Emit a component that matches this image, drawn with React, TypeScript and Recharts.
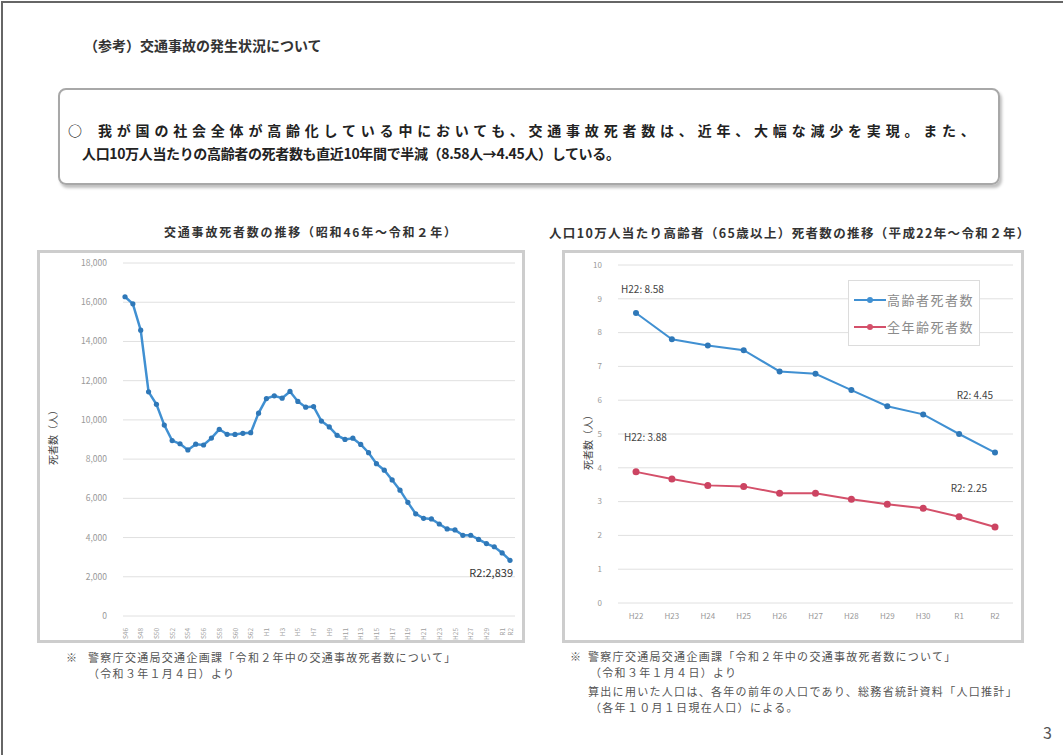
import React from "react";
import { CartesianGrid, LabelList, Legend, Line, LineChart, XAxis, YAxis } from "recharts";

const FONT = '"Noto Sans CJK JP", "Noto Sans", sans-serif';

// 交通事故死者数（昭和46年〜令和2年）
const yearLabels = [
  "S46", "S47", "S48", "S49", "S50", "S51", "S52", "S53", "S54", "S55",
  "S56", "S57", "S58", "S59", "S60", "S61", "S62", "S63", "H1", "H2",
  "H3", "H4", "H5", "H6", "H7", "H8", "H9", "H10", "H11", "H12",
  "H13", "H14", "H15", "H16", "H17", "H18", "H19", "H20", "H21", "H22",
  "H23", "H24", "H25", "H26", "H27", "H28", "H29", "H30", "R1", "R2",
];
const deaths = [
  16278, 15918, 14574, 11432, 10792, 9734, 8945, 8783, 8466, 8760,
  8719, 9073, 9520, 9262, 9261, 9317, 9347, 10344, 11086, 11227,
  11105, 11451, 10942, 10649, 10679, 9942, 9640, 9211, 9006, 9066,
  8747, 8326, 7768, 7436, 6937, 6415, 5796, 5209, 4979, 4948,
  4691, 4438, 4388, 4113, 4117, 3904, 3694, 3532, 3215, 2839,
];
const shownYearTicks = [
  "S46", "S48", "S50", "S52", "S54", "S56", "S58", "S60", "S62", "H1",
  "H3", "H5", "H7", "H9", "H11", "H13", "H15", "H17", "H19", "H21",
  "H23", "H25", "H27", "H29", "R1", "R2",
];
const deathTicks = [0, 2000, 4000, 6000, 8000, 10000, 12000, 14000, 16000, 18000];

// 人口10万人当たり死者数（平成22年〜令和2年）
const recentYears = ["H22", "H23", "H24", "H25", "H26", "H27", "H28", "H29", "H30", "R1", "R2"];
const elderlyRate = [8.58, 7.8, 7.62, 7.48, 6.85, 6.78, 6.3, 5.82, 5.58, 5.0, 4.45];
const allAgeRate = [3.88, 3.67, 3.48, 3.45, 3.25, 3.25, 3.07, 2.92, 2.8, 2.55, 2.25];
const rateTicks = [0, 1, 2, 3, 4, 5, 6, 7, 8, 9, 10];
const legendOrder = ["高齢者死者数", "全年齢死者数"];

const deathData = yearLabels.map((year, i) => ({ year, deaths: deaths[i] }));
const rateData = recentYears.map((year, i) => ({ year, elderly: elderlyRate[i], all: allAgeRate[i] }));

const BLUE_LINE = "#4090d2";
const BLUE_DOT = "#2f78b8";
const RED_LINE = "#d4506a";
const RED_DOT = "#cc4462";

const VerticalTick = ({ x, y, payload }: any) => (
  <text
    x={0}
    y={0}
    transform={`translate(${x + 2.5},${y + 4}) rotate(-90)`}
    fill="#a0a0a0"
    fontSize={6.5}
    textAnchor="end"
    fontFamily={FONT}
  >
    {payload.value}
  </text>
);

const lastDeathLabel = (props: any) => {
  const { x, y, index } = props;
  const last = deaths.length - 1;
  if (index !== last) return null;
  return (
    <text x={x + 3} y={y + 17} textAnchor="end" fontSize={11} fill="#333" fontFamily={FONT}>
      {`${yearLabels[last]}:${deaths[last].toLocaleString("en-US")}`}
    </text>
  );
};

const rateLabel = (values: number[], first: [number, number], end: [number, number]) => (props: any) => {
  const { x, y, index } = props;
  const last = values.length - 1;
  if (index !== 0 && index !== last) return null;
  const [dx, dy] = index === 0 ? first : end;
  return (
    <text
      x={x + dx}
      y={y + dy}
      textAnchor={index === 0 ? "start" : "end"}
      fontSize={10}
      fill="#444"
      fontFamily={FONT}
    >
      {`${recentYears[index]}: ${values[index].toFixed(2)}`}
    </text>
  );
};

const renderRateLegend = (props: any) => {
  const items = [...(props.payload || [])].sort(
    (a: any, b: any) => legendOrder.indexOf(a.value) - legendOrder.indexOf(b.value)
  );
  return (
    <div
      style={{
        border: "1px solid #dcdcdc",
        background: "#fff",
        padding: "5px 0 5px 5px",
        width: 132,
        boxSizing: "border-box",
        fontFamily: FONT,
      }}
    >
      {items.map((entry: any) => (
        <div key={entry.value} style={{ display: "flex", alignItems: "center", height: 27 }}>
          <svg width={32} height={10}>
            <line x1={0} y1={5} x2={32} y2={5} stroke={entry.color} strokeWidth={2} />
            <circle cx={16} cy={5} r={3} fill={entry.color} />
          </svg>
          <span style={{ fontSize: 13, color: "#8a8a8a", letterSpacing: 1.5, marginLeft: 1 }}>{entry.value}</span>
        </div>
      ))}
    </div>
  );
};

const abs = (left: number, top: number, extra: React.CSSProperties = {}): React.CSSProperties => ({
  position: "absolute",
  left,
  top,
  whiteSpace: "nowrap",
  ...extra,
});

const note: React.CSSProperties = { fontSize: 11, color: "#555", letterSpacing: 1.3, lineHeight: "14px" };

export default function App() {
  return (
    <div
      style={{
        position: "absolute",
        left: 0,
        top: 0,
        width: 1063,
        height: 755,
        background: "#fff",
        overflow: "hidden",
        fontFamily: FONT,
        color: "#333",
      }}
    >
      <div style={{ position: "absolute", left: 1, top: 1, width: 1070, height: 760, borderTop: "2px solid #666", borderLeft: "2px solid #666" }} />

      <div style={abs(84, 35, { fontSize: 14, fontWeight: 700, color: "#333" })}>（参考）交通事故の発生状況について</div>

      <div
        style={{
          position: "absolute",
          left: 58,
          top: 88,
          width: 942,
          height: 97,
          boxSizing: "border-box",
          border: "2px solid #a8a8a8",
          borderRadius: 8,
          boxShadow: "2px 3px 3px rgba(0,0,0,0.25)",
        }}
      />
      <div style={abs(68, 120, { fontSize: 14, fontWeight: 700, color: "#222" })}>○</div>
      <div style={abs(98, 120, { fontSize: 14, fontWeight: 700, color: "#222", letterSpacing: 4.8 })}>
        我が国の社会全体が高齢化している中においても、交通事故死者数は、近年、大幅な減少を実現。また、
      </div>
      <div style={abs(82, 143, { fontSize: 14, fontWeight: 700, color: "#222", letterSpacing: -0.35 })}>
        人口10万人当たりの高齢者の死者数も直近10年間で半減（8.58人→4.45人）している。
      </div>

      {/* left chart */}
      <div style={abs(164, 223, { fontSize: 12, fontWeight: 700, color: "#333", letterSpacing: 1.8 })}>
        交通事故死者数の推移（昭和46年～令和２年）
      </div>
      <div
        style={{
          position: "absolute",
          left: 37,
          top: 250,
          width: 488,
          height: 393,
          boxSizing: "border-box",
          border: "3px solid #cdcdcd",
        }}
      >
        <LineChart width={482} height={387} data={deathData} margin={{ top: 10, right: 7, bottom: 0, left: 0 }}>
          <CartesianGrid vertical={false} stroke="#e0e0e0" />
          <XAxis
            dataKey="year"
            ticks={shownYearTicks}
            interval={0}
            tick={<VerticalTick />}
            tickLine={false}
            axisLine={false}
            height={24}
            padding={{ left: 2, right: 5 }}
          />
          <YAxis
            domain={[0, 18000]}
            ticks={deathTicks}
            width={83}
            tickSize={0}
            tickMargin={16}
            tickLine={false}
            axisLine={false}
            tick={{ fontSize: 8.5, fill: "#999", fontFamily: FONT }}
            tickFormatter={(v: number) => v.toLocaleString("en-US")}
          />
          <Line
            type="linear"
            dataKey="deaths"
            stroke={BLUE_LINE}
            strokeWidth={2.5}
            dot={{ r: 2.6, fill: BLUE_DOT, stroke: BLUE_DOT, strokeWidth: 0 }}
            isAnimationActive={false}
          >
            <LabelList dataKey="deaths" content={lastDeathLabel} />
          </Line>
        </LineChart>
      </div>
      <div style={abs(52, 435, { fontSize: 10, color: "#444", transform: "translate(-50%, -50%) rotate(-90deg)" })}>
        死者数（人）
      </div>
      <div style={abs(66, 650, note)}>※</div>
      <div style={abs(88, 650, note)}>警察庁交通局交通企画課「令和２年中の交通事故死者数について」</div>
      <div style={abs(88, 666, note)}>（令和３年１月４日）より</div>

      {/* right chart */}
      <div style={abs(549, 223, { fontSize: 12.5, fontWeight: 700, color: "#333", letterSpacing: 1.35 })}>
        人口10万人当たり高齢者（65歳以上）死者数の推移（平成22年～令和２年）
      </div>
      <div
        style={{
          position: "absolute",
          left: 562,
          top: 250,
          width: 462,
          height: 393,
          boxSizing: "border-box",
          border: "3px solid #cdcdcd",
        }}
      >
        <LineChart width={456} height={387} data={rateData} margin={{ top: 12, right: 8, bottom: 0, left: 0 }}>
          <CartesianGrid vertical={false} stroke="#e0e0e0" />
          <XAxis
            dataKey="year"
            interval={0}
            tickLine={false}
            axisLine={false}
            height={37}
            tickSize={0}
            tickMargin={10}
            padding={{ left: 18, right: 18 }}
            tick={{ fontSize: 8, fill: "#999", fontFamily: FONT }}
          />
          <YAxis
            domain={[0, 10]}
            ticks={rateTicks}
            width={53}
            tickSize={0}
            tickMargin={16}
            tickLine={false}
            axisLine={false}
            tick={{ fontSize: 8, fill: "#999", fontFamily: FONT }}
          />
          <Legend
            layout="vertical"
            align="center"
            verticalAlign="middle"
            wrapperStyle={{ left: 283, top: 27, width: 132 }}
            content={renderRateLegend}
          />
          <Line
            type="linear"
            dataKey="elderly"
            name="高齢者死者数"
            stroke={BLUE_LINE}
            strokeWidth={2}
            dot={{ r: 3, fill: BLUE_DOT, stroke: BLUE_DOT, strokeWidth: 0 }}
            isAnimationActive={false}
          >
            <LabelList dataKey="elderly" content={rateLabel(elderlyRate, [-15, -20], [-2, -54])} />
          </Line>
          <Line
            type="linear"
            dataKey="all"
            name="全年齢死者数"
            stroke={RED_LINE}
            strokeWidth={2}
            dot={{ r: 3.5, fill: RED_DOT, stroke: RED_DOT, strokeWidth: 0 }}
            isAnimationActive={false}
          >
            <LabelList dataKey="all" content={rateLabel(allAgeRate, [-12, -31], [-8, -35])} />
          </Line>
        </LineChart>
      </div>
      <div style={abs(587, 440, { fontSize: 10, color: "#444", transform: "translate(-50%, -50%) rotate(-90deg)" })}>
        死者数（人）
      </div>
      <div style={abs(570, 649, note)}>※</div>
      <div style={abs(588, 649, note)}>警察庁交通局交通企画課「令和２年中の交通事故死者数について」</div>
      <div style={abs(590, 665, note)}>（令和３年１月４日）より</div>
      <div style={abs(588, 684, note)}>算出に用いた人口は、各年の前年の人口であり、総務省統計資料「人口推計」</div>
      <div style={abs(590, 700, note)}>（各年１０月１日現在人口）による。</div>

      <div style={abs(1043, 720, { fontSize: 16, color: "#555" })}>3</div>
    </div>
  );
}
